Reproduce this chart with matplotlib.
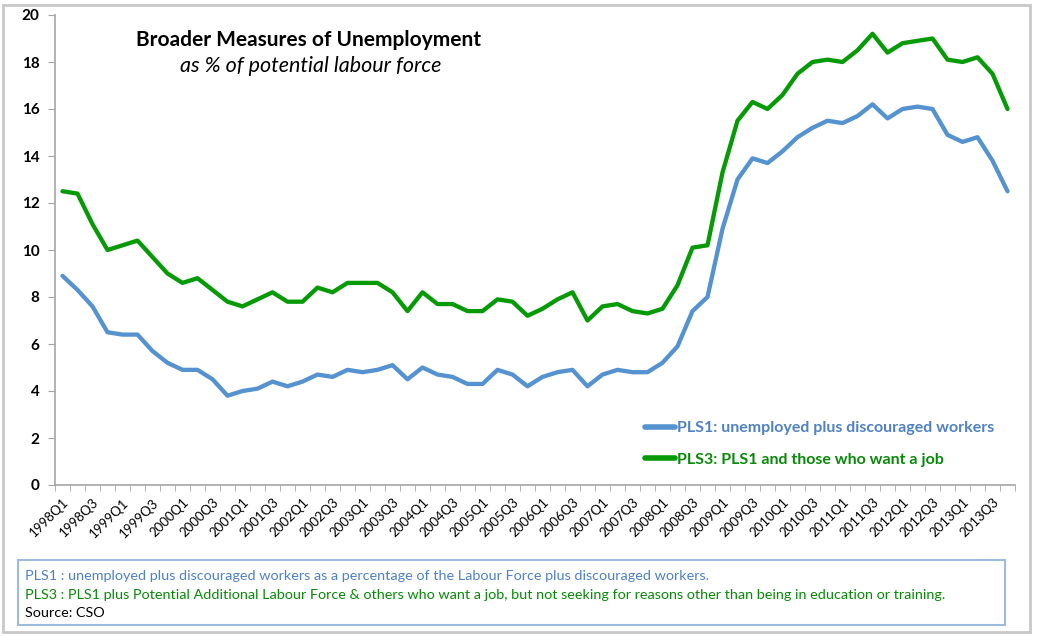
import matplotlib
matplotlib.use("Agg")
import matplotlib.pyplot as plt
from matplotlib.patches import Rectangle

plt.rcParams['font.family'] = ['Lato', 'DejaVu Sans']

# quarters 1998Q1 .. 2013Q4
years = list(range(1998, 2014))
quarters = [f"{y}Q{q}" for y in years for q in (1, 2, 3, 4)]

pls1 = [8.9, 8.3, 7.6, 6.5, 6.4, 6.4, 5.7, 5.2, 4.9, 4.9, 4.5, 3.8,
        4.0, 4.1, 4.4, 4.2, 4.4, 4.7, 4.6, 4.9, 4.8, 4.9, 5.1, 4.5,
        5.0, 4.7, 4.6, 4.3, 4.3, 4.9, 4.7, 4.2, 4.6, 4.8, 4.9, 4.2,
        4.7, 4.9, 4.8, 4.8, 5.2, 5.9, 7.4, 8.0, 10.9, 13.0, 13.9, 13.7,
        14.2, 14.8, 15.2, 15.5, 15.4, 15.7, 16.2, 15.6, 16.0, 16.1, 16.0, 14.9,
        14.6, 14.8, 13.8, 12.5]
pls3 = [12.5, 12.4, 11.1, 10.0, 10.2, 10.4, 9.7, 9.0, 8.6, 8.8, 8.3, 7.8,
        7.6, 7.9, 8.2, 7.8, 7.8, 8.4, 8.2, 8.6, 8.6, 8.6, 8.2, 7.4,
        8.2, 7.7, 7.7, 7.4, 7.4, 7.9, 7.8, 7.2, 7.5, 7.9, 8.2, 7.0,
        7.6, 7.7, 7.4, 7.3, 7.5, 8.5, 10.1, 10.2, 13.3, 15.5, 16.3, 16.0,
        16.6, 17.5, 18.0, 18.1, 18.0, 18.5, 19.2, 18.4, 18.8, 18.9, 19.0, 18.1,
        18.0, 18.2, 17.5, 16.0]

label1 = "PLS1: unemployed plus discouraged workers"
label3 = "PLS3: PLS1 and those who want a job"
note1 = "PLS1 : unemployed plus discouraged workers as a percentage of the Labour Force plus discouraged workers."
note3 = ("PLS3 : PLS1 plus Potential Additional Labour Force & others who want a job, "
         "but not seeking for reasons other than being in education or training.")
source = "Source: CSO"

BLUE = "#5592D0"
GREEN = "#079A07"
AXIS_GREY = "#A6A6A6"

fig = plt.figure(figsize=(10.38, 6.36), dpi=100)
ax = fig.add_axes([55 / 1038, 1 - 485 / 636, 960 / 1038, 470 / 636])

x = list(range(len(quarters)))
ax.plot(x, pls1, color=BLUE, lw=3.1, solid_capstyle="round", solid_joinstyle="round", label=label1)
ax.plot(x, pls3, color=GREEN, lw=3.1, solid_capstyle="round", solid_joinstyle="round", label=label3)

ax.set_xlim(-0.5, len(quarters) - 0.5)
ax.set_ylim(0, 20)
ax.set_yticks(range(0, 21, 2))
ax.tick_params(axis="y", direction="out", length=5, color=AXIS_GREY, labelsize=11, pad=6)
for t in ax.get_yticklabels():
    t.set_fontweight("bold")

ax.set_xticks(x[::2])
ax.set_xticklabels(quarters[::2], rotation=45, ha="right", rotation_mode="anchor", fontsize=9.5)
ax.tick_params(axis="x", which="major", length=0, pad=8)
ax.set_xticks([i - 0.5 for i in range(len(quarters) + 1)], minor=True)
ax.tick_params(axis="x", which="minor", direction="out", length=4, color=AXIS_GREY)

for s in ("top", "right"):
    ax.spines[s].set_visible(False)
for s in ("left", "bottom"):
    ax.spines[s].set_color(AXIS_GREY)
    ax.spines[s].set_linewidth(1.2)

leg = ax.legend(loc="upper left", bbox_to_anchor=(645 / 1038, 1 - 421 / 636),
                bbox_transform=fig.transFigure, frameon=False,
                borderpad=0, borderaxespad=0,
                handlelength=1.9, handletextpad=0.1, labelspacing=1.1,
                prop={"weight": "bold", "size": 11.5},
                labelcolor=["#4F81C4", "#078A07"])
for h in leg.get_lines():
    h.set_linewidth(4)

fig.text(309 / 1038, 1 - 40 / 636, "Broader Measures of Unemployment", ha="center", va="center",
         fontsize=15, fontweight="bold")
fig.text(311 / 1038, 1 - 66 / 636, "as % of potential labour force", ha="center", va="center",
         fontsize=15.5, style="italic")

# footnote box and outer frame
fig.add_artist(Rectangle((18 / 1038, 1 - 625 / 636), 987 / 1038, 65 / 636,
                         transform=fig.transFigure, fill=False, edgecolor="#9CBBE0", lw=1.5))
fig.add_artist(Rectangle((3 / 1038, 1 - 632 / 636), 1027 / 1038, 627 / 636,
                         transform=fig.transFigure, fill=False, edgecolor="#C8C8C8", lw=2))
fig.text(25 / 1038, 1 - 576 / 636, note1, color="#4F81C4", fontsize=10.4, va="center")
fig.text(25 / 1038, 1 - 595 / 636, note3, color="#078A07", fontsize=10.4, va="center")
fig.text(25 / 1038, 1 - 613 / 636, source, color="black", fontsize=10.4, va="center")

fig.savefig("out.png", dpi=100)
